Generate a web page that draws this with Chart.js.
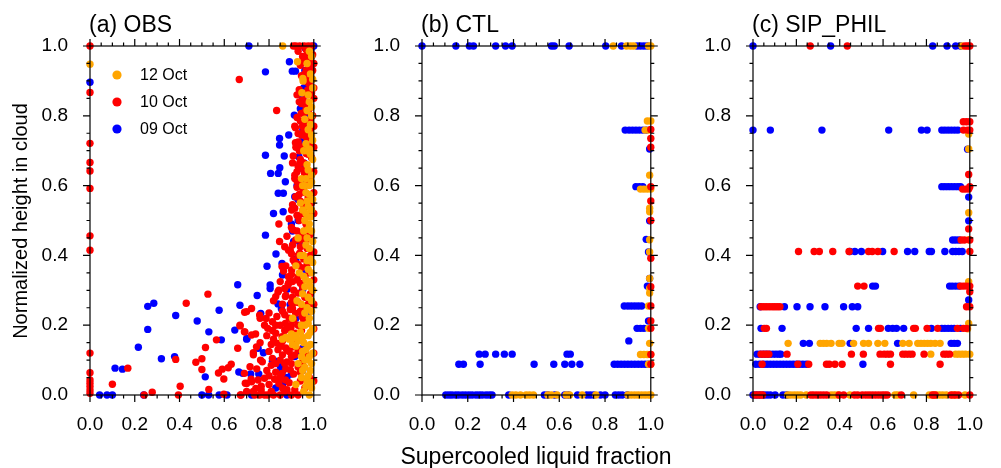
<!DOCTYPE html>
<html>
<head>
<meta charset="utf-8">
<script src="https://cdn.jsdelivr.net/npm/chart.js@4.4.0/dist/chart.umd.min.js"></script>
<style>
  html, body { margin: 0; padding: 0; background: #fff; }
  #wrap { position: relative; width: 1001px; height: 468px; overflow: hidden; }
  canvas { position: absolute; top: 0; }
</style>
</head>
<body>
<div id="wrap">
  <canvas id="obs" width="345" height="468" style="left:0px"></canvas>
  <canvas id="ctl" width="330" height="468" style="left:352px"></canvas>
  <canvas id="sip" width="318" height="468" style="left:683px"></canvas>
</div>
<script>
// --- axis ticks & legend ---
const tickValues = [0, 0.2, 0.4, 0.6, 0.8, 1.0];
const minorTickValues = [0.05, 0.1, 0.15, 0.25, 0.3, 0.35, 0.45, 0.5, 0.55, 0.65, 0.7, 0.75, 0.85, 0.9, 0.95];
const legendLabels = ['12 Oct', '10 Oct', '09 Oct'];
const panelTitles = ['(a) OBS', '(b) CTL', '(c) SIP_PHIL'];

// --- (a) OBS : [supercooled liquid fraction, normalized height] ---
const obsOrange = [
  [0,.948],[.861,1],[.927,.955],[.951,.907],[.947,.866],
  [.99,.97],[.985,.92],[.995,.88],[.98,.84],[.99,.8],[.975,.76],[.995,.73],[.985,.69],[.97,.66],[.99,.63],
  [.98,.6],[.965,.58],[.995,.56],[.975,.54],[.985,.51],[.96,.5],[.99,.47],[.97,.45],[.98,.42],[.955,.4],
  [.995,.38],[.975,.36],[.965,.33],[.985,.31],[.95,.29],[.99,.27],[.97,.25],[.98,.22],[.96,.2],[.995,.19],
  [.94,.18],[.975,.17],[.91,.165],[.89,.16],[.875,.165],[.93,.155],[.955,.15],[.985,.145],[.92,.14],[.965,.13],
  [.995,.12],[.945,.11],[.975,.1],[.93,.09],[.96,.08],[.985,.07],[.945,.05],[.97,.04],[.92,.03],[.99,.02],
  [.955,.01],[.98,0],[.94,.55],[.945,.62],[.93,.45],[.935,.35],[.955,.7],[.96,.79],[.95,.6],[.94,.4],
  [.955,.47],[.95,.53],[.965,.62],[.97,.7],[.92,.37],[.925,.27],[.905,.22],[.952,.9],[.98,.985],
  [.97,.95],[.995,.905],[.975,.86],[.99,.825],[.97,.815],[.985,.775],[.99,.745],[.965,.72],[.98,.705],[.995,.675],
  [.975,.645],[.99,.61],[.96,.6],[.98,.575],[.97,.555],[.99,.53],[.965,.52],[.98,.49],[.975,.475],[.995,.44],
  [.965,.43],[.985,.39],[.97,.385],[.99,.35],[.955,.34],[.98,.325],[.995,.3],[.96,.31],[.975,.28],[.945,.26],
  [.99,.24],[.96,.235],[.975,.205],[.945,.2],[.985,.18],[.9,.175],[.92,.17],[.95,.165],[.86,.16],[.905,.145],
  [.975,.14],[.95,.125],[.98,.11],[.96,.1],[.99,.09],[.95,.07],[.975,.055],[.99,.035],[.965,.025]
];
const obsRed = [
  [0,1],[0,.867],[0,.721],[0,.666],[0,.642],[0,.592],[0,.456],[0,.415],[0,.12],[0,.064],[0,.043],[0,.034],[0,.024],[0,.014],[0,.005],
  [.10,.031],[.169,.077],[.242,0],[.278,.008],[.383,.102],[.403,.025],[.395,0],[.43,.263],[.473,.094],[.50,.104],
  [.50,.073],[.516,.136],[.527,.289],[.531,.016],[.565,.158],[.574,.063],[.591,.074],[.598,.046],[.598,.002],[.618,.078],
  [.631,.088],[.66,.134],[.671,.198],[.691,.237],[.692,.181],[.694,.034],[.675,0],[.667,.904],[.834,.815],
  [.918,.766],[.908,.685],[.918,.723],[.915,.63],[.844,.49],[.847,.44],[.858,.368],[.887,.339],[.83,.282],[.844,.30],
  [.722,.248],[.70,.239],[.67,.2],[.69,.181],[.722,.172],[.758,.229],[.787,.219],[.794,.191],[.815,.21],[.83,.177],
  [.858,.167],[.837,.148],[.744,.138],[.73,.121],[.762,.10],[.815,.105],[.715,.081],[.69,.062],[.70,.033],[.722,.038],
  [.751,.043],[.78,.048],[.741,.019],[.765,.014],[.672,0],[.736,0],[.758,0],[.794,0],[.844,.033],[.873,.043],
  [.858,.062],[.895,.072],[.88,.095],[.88,.129],[.916,.115],[.908,.138],[.919,.177],[.897,.191],[.873,.205],[.919,.234],
  [.905,.248],[.948,.224],[.873,.282],[.909,.264],[.93,.292],[.887,.32],[.93,.339],[.901,.358],[.908,.387],[.937,.406],
  [.887,.415],[.919,.444],[.948,.463],[.908,.473],[.93,.511],[.901,.53],[.952,.549],[.919,.568],[.952,.587],[.926,.611],
  [.959,.635],[.937,.664],[.966,.692],[.944,.711],[.966,.74],[.93,.749],[.959,.778],[.944,.807],[.966,.826],[.952,.845],
  [.973,.874],[.959,.903],[.966,.931],[.952,.96],[.973,.979],
  [.909,1],[.92,1],[.937,1],[.958,1],[.975,1],[.99,1],
  [.93,.985],[.95,.97],[.965,.99],[.98,.96],[.995,.975],[.94,.945],[.96,.92],[.975,.935],[.985,.905],[.955,.9],
  [.995,.93],[.935,.875],[.97,.86],[.95,.845],[.985,.885],[.925,.86],[1,.85],[.945,.835],[.96,.81],[.925,.795],
  [.98,.82],[.94,.785],[.995,.8],[.915,.77],[.955,.755],[.97,.735],[.93,.725],[.985,.76],[.945,.745],[.92,.71],
  [.96,.7],[.94,.675],[.975,.69],[.905,.665],[.99,.715],[.93,.655],[.955,.645],[.915,.62],[.97,.61],[.945,.6],
  [.985,.635],[.925,.595],[.96,.58],[.94,.555],[.905,.545],[.975,.565],[.99,.55],[.915,.535],[.95,.52],[.935,.5],
  [.89,.505],[.965,.49],[.98,.515],[.9,.48],[.925,.47],[.88,.455],[.95,.46],[.905,.43],[.94,.425],[.965,.445],
  [.87,.425],[.895,.415],[.93,.4],[.915,.38],[.955,.39],[.875,.37],[.945,.365],[.97,.375],[.865,.355],[.9,.345],
  [.925,.33],[.885,.315],[.95,.31],[.91,.3],[.85,.325],[.84,.295],[.875,.285],[.905,.28],[.86,.26],[.93,.265],
  [.895,.245],[.82,.27],[.95,.25],[.80,.235],[.835,.225],[.87,.23],[.91,.215],[.85,.2],[.885,.19],[.93,.2],
  [.815,.185],[.76,.22],[.78,.2],[.79,.17],[.82,.16],[.86,.155],[.895,.165],[.875,.135],[.91,.145],[.84,.13],
  [.8,.125],[.76,.15],[.74,.175],[.73,.115],[.77,.095],[.81,.085],[.85,.1],[.875,.075],[.9,.09],[.83,.065],
  [.79,.07],[.745,.075],[.93,.08],[.72,.045],[.765,.025],[.80,.03],[.825,.045],[.86,.02],[.89,.035],[.915,.015],
  [.94,.04],[.70,.01],[.78,0],[.82,0],[.85,0],[.87,.01],[.9,0],[.93,0],[.96,.02],
  [1,.12],[1,.19],[1,.33],[1,.41],[1,.52],[1,.58],[1,.71],[1,.77],[1,.88],[1,.95],[1,.04],[1,.26],[1,.64],
  [.965,.965],[.985,.945],[.945,.915],[.975,.895],[.99,.865],[.935,.84],[.965,.815],[.985,.79],[.95,.77],[.975,.745],
  [.935,.7],[.99,.68],[.955,.665],[.925,.64],[.98,.62],[.96,.6],[.935,.575],[.99,.575],[.955,.535],[.925,.515],
  [.96,.47],[.985,.46],[.94,.445],[.9,.405],[.97,.42],[.985,.4],[.93,.375],[.96,.34],[.905,.325],[.98,.35],
  [.94,.32],[.87,.305],[.96,.28],[.985,.29],[.9,.265],[.94,.24],[.975,.26],[.86,.24],[.89,.22],[.955,.215],
  [.83,.2],[.9,.2],[.945,.185],[.87,.185],[.81,.145],[.855,.14],[.89,.125],[.93,.13],[.965,.115],[.86,.115],
  [.9,.11],[.83,.09],[.95,.095],[.87,.09],[.91,.06],[.94,.065],[.8,.055],[.85,.05],[.88,.015],[.98,.05],
  [.73,.01],[.81,.01]
];
const obsBlue = [
  [0,.896],[.043,0],[.076,0],[.10,0],[.112,.077],[.145,.074],[.216,.137],[.258,.188],[.258,.254],[.285,.263],
  [.319,.104],[.24,0],[.383,.228],[.378,.11],[.479,.212],[.515,.052],[.531,.181],[.50,0],[.53,0],[.577,.243],
  [.587,.158],[.577,0],[.612,0],[.66,.316],[.67,.257],[.647,.186],[.665,.066],[.682,.062],[.70,.16],[.71,1],
  [.784,.926],[.891,.955],[.904,.928],[.918,.928],[.913,.802],[.847,.735],[.847,.716],[.888,.745],[.784,.687],[.868,.685],
  [.848,.651],[.807,.635],[.841,.635],[.873,.611],[.841,.578],[.864,.578],[.915,.568],[.82,.52],[.863,.525],[.973,.984],
  [.987,.989],[.951,.76],[.944,.726],[.933,.683],[.958,.664],[.937,.65],[.951,.616],
  [.784,.458],[.831,.404],[.791,.369],[.858,.377],[.86,.344],[.881,.303],[.805,.315],[.805,.305],[.747,.285],[.84,.261],
  [.855,.247],[.763,.234],[.894,.259],[.701,.162],[.751,.134],[.775,.121],[.718,.06],[.754,.06],[.815,.097],[.829,.097],
  [.851,.081],[.861,.069],[.915,.11],[.951,.134],[.812,.005],[.722,0],
  [.93,.50],[.905,.47],[.94,.43],[.92,.39],[.96,.36],[.93,.56],[.97,.80],[.95,.85],[.98,.90],[.96,.93],
  [.99,.97],[.955,.88],[.94,.82],[.925,.60],[.90,.49],[.91,.44],[.95,.30],[.92,.22],[.88,.05],[.86,.03],
  [.90,.06],[.95,.07],[.83,.02],[.88,0],[.98,.985],[.96,.995],[1,1],[.97,.23],[.94,.12]
];

// --- (b) CTL ---
const ctlOrange = [
  [.836,1],[.894,1],[.911,1],[.925,1],[.99,1],[1,1],
  [.985,.785],[1,.785],[.99,.759],[.975,.759],[.995,.63],[.955,.59],[.97,.59],[.985,.59],[1,.59],
  [.995,.535],[.995,.525],[.995,.445],[.995,.41],[.995,.334],[.995,.305],[.995,.292],[.99,.255],[.99,.191],[.995,.148],
  [.955,.116],[.97,.116],[.985,.116],[1,.116],[.99,.088],[1,.088],
  [.394,0],[.41,0],[.43,0],[.455,0],[.47,0],[.487,0],[.55,0],[.565,0],[.59,0],[.63,0],
  [.645,0],[.7,0],[.76,0],[.9,0],[.915,0],[.93,0],[.945,0],[.96,0],[.975,0],[.99,0],[1,0]
];
const ctlRed = [
  [1,.761],[1,.735],[1,.71],[1,.597],[1,.556],[1,.5],[1,.392],[1,.31],[1,.255],[1,.212],[1,.191],[1,.116],[1,.088]
];
const ctlBlue = [
  [0,1],[.148,1],[.207,1],[.225,1],[.322,1],[.365,1],[.394,1],[.566,1],[.578,1],[.643,1],
  [.803,1],[.872,1],[.94,1],[.955,1],[.97,1],[.985,1],
  [.888,.759],[.905,.759],[.92,.759],[.935,.759],[.95,.759],[.965,.759],[.98,.759],[.995,.705],
  [.935,.597],[.95,.597],[.965,.597],[.995,.499],[.98,.446],[.99,.41],[.995,.334],[.985,.312],
  [.884,.255],[.9,.255],[.915,.255],[.93,.255],[.945,.255],[.96,.255],
  [.99,.212],[.94,.191],[.955,.191],[.97,.191],[.904,.155],
  [.25,.117],[.276,.117],[.322,.117],[.36,.117],[.394,.117],[.634,.117],[.648,.117],
  [.161,.088],[.181,.088],[.254,.088],[.49,.088],[.576,.088],[.624,.088],[.655,.088],[.69,.088],[.84,.088],[.855,.088],
  [.87,.088],[.885,.088],[.9,.088],[.915,.088],[.93,.088],[.945,.088],[.96,.088],[.975,.088],[.99,.088],
  [.104,0],[.118,0],[.131,0],[.147,0],[.16,0],[.176,0],[.19,0],[.205,0],[.219,0],[.236,0],
  [.25,0],[.263,0],[.28,0],[.294,0],[.306,0],[.379,0],[.535,0],[.55,0],[.58,0],[.624,0],
  [.64,0],[.68,0],[.72,0],[.735,0],[.75,0],[.78,0],[.8,0],[.845,0],[.86,0],[.875,0],[.897,0]
];

// --- (c) SIP_PHIL ---
const sipOrange = [
  [.964,1],[.995,.748],[.995,.705],[.995,.522],[.995,.445],[.995,.325],[.99,.315],[.995,.205],[.99,.19],
  [.162,.148],[.31,.148],[.325,.148],[.34,.148],[.36,.148],[.397,.148],[.41,.148],[.464,.148],[.51,.148],[.533,.148],
  [.576,.148],[.608,.148],[.691,.148],[.72,.148],[.76,.148],[.775,.148],[.79,.148],[.805,.148],[.82,.148],[.84,.148],[.863,.148],
  [.82,.117],[.935,.117],[.95,.117],[.965,.117],[.98,.117],[1,.117],
  [.16,0],[.174,0],[.19,0],[.205,0],[.22,0],[.246,0],[.36,0],[.375,0],[.39,0],[.447,0],
  [.655,0],[.668,0],[.741,0],[.813,0],[.83,0],[.845,0],[.86,0],[.875,0],[.892,0],[.92,0],[.935,0],[.978,0]
];
const sipRed = [
  [.264,1],[.435,1],[.978,1],[.99,1],[1,1],
  [.97,.783],[.985,.783],[1,.783],[.971,.759],[.99,.759],[1,.759],[.995,.632],
  [.967,.59],[.98,.59],[.995,.59],[1,.597],[.995,.476],[.96,.444],[.975,.444],[1,.444],
  [.21,.411],[.282,.411],[.306,.411],[.368,.411],[.443,.411],[.533,.411],[.55,.411],[.576,.411],[.651,.411],[1,.411],
  [.483,.312],[.512,.312],[.957,.312],[.97,.312],[.985,.312],[1,.312],[1,.296],[.985,.253],[1,.253],
  [.037,.253],[.05,.253],[.062,.253],[.075,.253],[.088,.253],[.1,.253],[.112,.253],[.124,.253],
  [.052,.191],[.062,.191],[.579,.191],[.588,.191],[.741,.191],[.749,.191],[.803,.191],[.852,.191],[.943,.191],[.971,.191],[.986,.191],
  [.037,.117],[.05,.117],[.062,.117],[.073,.117],[.157,.117],[.454,.117],[.509,.117],[.586,.117],[.605,.117],[.62,.117],
  [.634,.117],[.691,.117],[.705,.117],[.72,.117],[.734,.117],[.789,.117],[.88,.117],[.893,.117],[.907,.117],
  [.042,.088],[.207,.088],[.257,.088],[.339,.088],[.352,.088],[.378,.088],[.411,.088],[.634,.088],[.863,.088],
  [.009,0],[.022,0],[.035,0],[.044,0],[.267,0],[.28,0],[.295,0],[.31,0],[.325,0],[.34,0],
  [.397,0],[.418,0],[.468,0],[.483,0],[.504,0],[.52,0],[.535,0],[.55,0],[.565,0],[.58,0],
  [.595,0],[.607,0],[.619,0],[.684,0],[.828,0],[.84,0],[.914,0],[.93,0],[.948,0],[1,0]
];
const sipBlue = [
  [0,1],[.358,1],[.829,1],[.895,1],[.935,1],[.957,1],
  [0,.759],[.08,.759],[.318,.759],[.626,.759],[.777,.759],[.803,.759],[.871,.759],[.885,.759],[.9,.759],[.915,.759],[.93,.759],[.945,.759],
  [.99,.704],[.871,.597],[.885,.597],[.9,.597],[.915,.597],[.93,.597],[.945,.597],[.957,.597],[.995,.567],[.995,.499],
  [.921,.444],[.935,.444],[.95,.444],
  [.447,.411],[.47,.411],[.5,.411],[.598,.411],[.713,.411],[.746,.411],[.813,.411],[.823,.411],[.885,.411],[.921,.411],
  [.935,.411],[.95,.411],[.965,.411],
  [.552,.312],[.565,.312],[.907,.312],[.92,.312],[.935,.312],[.95,.312],[.995,.272],
  [.033,.253],[.145,.253],[.203,.253],[.263,.253],[.332,.253],[.418,.253],[.458,.253],[.483,.253],
  [.037,.191],[.134,.191],[.476,.191],[.533,.191],[.624,.191],[.644,.191],[.662,.191],[.695,.191],[.823,.191],[.871,.191],
  [.885,.191],[.9,.191],[.915,.191],[.928,.191],[.957,.191],
  [.232,.148],[.26,.148],[.448,.148],[.667,.148],[.914,.148],[.928,.148],[.943,.148],
  [.019,.117],[.033,.117],[.048,.117],[.062,.117],[.077,.117],[.092,.117],[.106,.117],[.12,.117],[.128,.117],
  [.013,.088],[.03,.088],[.05,.088],[.065,.088],[.08,.088],[.095,.088],[.11,.088],[.125,.088],[.14,.088],[.155,.088],
  [.17,.088],[.185,.088],[.2,.088],[.215,.088],[.23,.088],[.246,.088],[.507,.088],
  [0,0],[.015,0],[.03,0],[.05,0],[.065,0],[.08,0],[.102,0],[.138,0],[.155,0]
];

// --- style ---
const FONT = "'Liberation Sans', Arial, Helvetica, sans-serif";
const colors = { orange: '#ffa500', red: '#ff0000', blue: '#0000ff' };

// frame + outward major/minor ticks on all four sides
const frame = {
  id: 'frame',
  afterDatasetsDraw(chart) {
    const { ctx, chartArea: a, scales: { x, y } } = chart;
    ctx.save();
    ctx.strokeStyle = '#000';
    ctx.lineWidth = 1.2;
    ctx.strokeRect(a.left, a.top, a.right - a.left, a.bottom - a.top);
    ctx.beginPath();
    const tick = (v, len) => {
      const px = x.getPixelForValue(v), py = y.getPixelForValue(v);
      ctx.moveTo(px, a.bottom); ctx.lineTo(px, a.bottom + len);
      ctx.moveTo(px, a.top); ctx.lineTo(px, a.top - len);
      ctx.moveTo(a.left, py); ctx.lineTo(a.left - len, py);
      ctx.moveTo(a.right, py); ctx.lineTo(a.right + len, py);
    };
    tickValues.forEach(v => tick(v, 7));
    minorTickValues.forEach(v => tick(v, 3.5));
    ctx.stroke();
    ctx.restore();
  }
};

// panel title, axis titles and the in-panel legend
const panelText = {
  id: 'panelText',
  afterDraw(chart, args, o) {
    const { ctx, chartArea: a } = chart;
    ctx.save();
    ctx.fillStyle = '#000';
    ctx.textBaseline = 'alphabetic';
    ctx.font = '23px ' + FONT;
    ctx.fillText(o.title, a.left - 1, 32);
    if (o.xTitle) {
      ctx.font = '23px ' + FONT;
      ctx.textAlign = 'center';
      ctx.fillText(o.xTitle, o.xTitleX, 464);
    }
    if (o.yTitle) {
      ctx.save();
      ctx.font = '20px ' + FONT;
      ctx.textAlign = 'center';
      ctx.translate(27, 221);
      ctx.rotate(-Math.PI / 2);
      ctx.fillText(o.yTitle, 0, 0);
      ctx.restore();
    }
    if (o.legend) {
      const cols = [colors.orange, colors.red, colors.blue];
      ctx.font = '16px ' + FONT;
      ctx.textAlign = 'left';
      ctx.textBaseline = 'middle';
      legendLabels.forEach((lab, i) => {
        const yy = 75 + i * 27;
        ctx.fillStyle = cols[i];
        ctx.beginPath();
        ctx.arc(a.left + 27, yy, 4.6, 0, Math.PI * 2);
        ctx.fill();
        ctx.fillStyle = '#000';
        ctx.fillText(lab, a.left + 50, yy + 1);
      });
    }
    ctx.restore();
  }
};

function axis(isX, yWidth) {
  return {
    type: 'linear',
    min: 0,
    max: 1,
    afterBuildTicks: s => { s.ticks = tickValues.map(v => ({ value: v })); },
    ticks: {
      callback: v => v.toFixed(1),
      color: '#000',
      font: { family: FONT, size: 19 },
      padding: isX ? 18 : 22,
      maxRotation: 0,
      autoSkip: false
    },
    grid: { display: false, drawTicks: false },
    border: { display: false },
    afterFit: s => { if (isX) s.height = 50; else s.width = yWidth; }
  };
}

function toPts(arr) {
  return arr.map(p => ({ x: p[0], y: p[1] }));
}

function ds(arr, col) {
  return {
    data: toPts(arr),
    backgroundColor: col,
    borderWidth: 0,
    pointRadius: 3.7,
    clip: false
  };
}

function makePanel(id, sets, yWidth, rightPad, text) {
  new Chart(document.getElementById(id), {
    type: 'scatter',
    data: { datasets: sets },
    options: {
      responsive: false,
      animation: false,
      events: [],
      layout: { padding: { top: 46, right: rightPad, left: 0, bottom: 23 } },
      scales: { x: axis(true, yWidth), y: axis(false, yWidth) },
      plugins: {
        legend: { display: false },
        tooltip: { enabled: false },
        panelText: text
      }
    },
    plugins: [frame, panelText]
  });
}

// first dataset is drawn on top
makePanel('obs', [ds(obsOrange, colors.orange), ds(obsRed, colors.red), ds(obsBlue, colors.blue)], 90, 22,
  { title: panelTitles[0], yTitle: 'Normalized height in cloud', legend: true });
makePanel('ctl', [ds(ctlRed, colors.red), ds(ctlOrange, colors.orange), ds(ctlBlue, colors.blue)], 70, 28,
  { title: panelTitles[1], xTitle: 'Supercooled liquid fraction', xTitleX: 184 });
makePanel('sip', [ds(sipRed, colors.red), ds(sipOrange, colors.orange), ds(sipBlue, colors.blue)], 70, 16,
  { title: panelTitles[2] });
</script>
</body>
</html>
